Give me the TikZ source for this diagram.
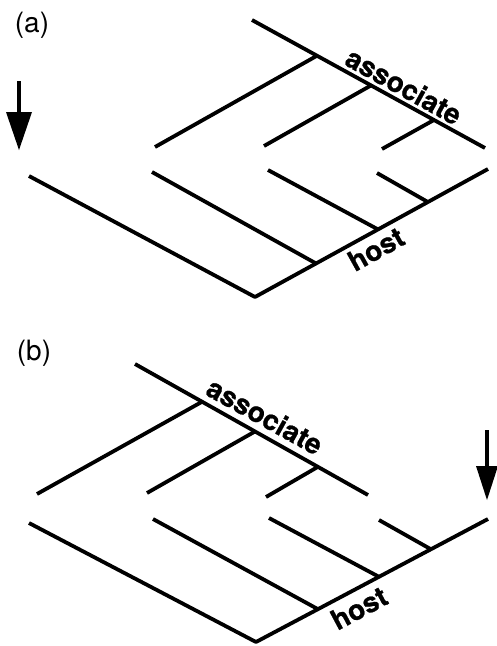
\documentclass[tikz,border=0pt]{standalone}
\usepackage{fontspec}
\setmainfont{TeX Gyre Heros}
\newfontfamily\heavyfont[BoldFeatures={FakeBold=0.8}]{TeX Gyre Heros}
\usetikzlibrary{calc}
\begin{document}
\begin{tikzpicture}[x=1pt,y=-1pt,
  edge/.style={line width=3.8pt, line join=round},
  treelabel/.style={font=\heavyfont\bfseries\fontsize{28}{28}\selectfont, inner sep=0pt},
  panellabel/.style={font=\fontsize{28}{28}\selectfont, inner sep=0pt},
  shaft/.style={line width=4pt},
  headfill/.style={fill=black},
]
\path[use as bounding box] (0,0) rectangle (497,646);

% ---------------- panel (a) ----------------
\node[panellabel] (labA) at (32,25) {(a)};

% host tree
\coordinate (hA-root) at (255,297);
\coordinate (hA-left) at (29,176);
\coordinate (hA-end)  at (488,169);
\coordinate (hA-1) at ($(hA-root)!0.262!(hA-end)$);
\coordinate (hA-2) at ($(hA-root)!0.528!(hA-end)$);
\coordinate (hA-3) at ($(hA-root)!0.742!(hA-end)$);
\coordinate (hA-1leaf) at (152,172);
\coordinate (hA-2leaf) at (268,170);
\coordinate (hA-3leaf) at (377,173);
\draw[edge] (hA-left) -- (hA-root) -- (hA-end);
\draw[edge] (hA-1leaf) -- (hA-1);
\draw[edge] (hA-2leaf) -- (hA-2);
\draw[edge] (hA-3leaf) -- (hA-3);

% associate tree
\coordinate (aA-top) at (252,20);
\coordinate (aA-end) at (485,148);
\coordinate (aA-1) at ($(aA-top)!0.279!(aA-end)$);
\coordinate (aA-2) at ($(aA-top)!0.511!(aA-end)$);
\coordinate (aA-3) at ($(aA-top)!0.781!(aA-end)$);
\coordinate (aA-1leaf) at (155,147);
\coordinate (aA-2leaf) at (264,146);
\coordinate (aA-3leaf) at (382,149);
\draw[edge] (aA-top) -- (aA-end);
\draw[edge] (aA-1leaf) -- (aA-1);
\draw[edge] (aA-2leaf) -- (aA-2);
\draw[edge] (aA-3leaf) -- (aA-3);

\node[treelabel, rotate=-29] (assocA) at (404,86) {associate};
\node[treelabel, rotate=29] (hostA) at (376,249) {host};

% arrow
\coordinate (arrA-top) at (19,81);
\coordinate (arrA-base) at (19,112);
\coordinate (arrA-tip) at (19,150);
\draw[shaft] (arrA-top) -- ($(arrA-base)+(0,2)$);
\fill[headfill] ($(arrA-base)+(-13,0)$) -- ($(arrA-base)+(13,0)$) -- (arrA-tip) -- cycle;

% ---------------- panel (b) ----------------
\node[panellabel] (labB) at (34,353) {(b)};

% host tree
\coordinate (hB-root) at (256,642);
\coordinate (hB-left) at (29,523);
\coordinate (hB-end)  at (488,519);
\coordinate (hB-1) at ($(hB-root)!0.267!(hB-end)$);
\coordinate (hB-2) at ($(hB-root)!0.530!(hB-end)$);
\coordinate (hB-3) at ($(hB-root)!0.754!(hB-end)$);
\coordinate (hB-1leaf) at (153,519);
\coordinate (hB-2leaf) at (269,518);
\coordinate (hB-3leaf) at (379,520);
\draw[edge] (hB-left) -- (hB-root) -- (hB-end);
\draw[edge] (hB-1leaf) -- (hB-1);
\draw[edge] (hB-2leaf) -- (hB-2);
\draw[edge] (hB-3leaf) -- (hB-3);

% associate tree
\coordinate (aB-top) at (135,364);
\coordinate (aB-end) at (368,495);
\coordinate (aB-1) at ($(aB-top)!0.288!(aB-end)$);
\coordinate (aB-2) at ($(aB-top)!0.515!(aB-end)$);
\coordinate (aB-3) at ($(aB-top)!0.785!(aB-end)$);
\coordinate (aB-1leaf) at (37,494);
\coordinate (aB-2leaf) at (147,493);
\coordinate (aB-3leaf) at (266,497);
\draw[edge] (aB-top) -- (aB-end);
\draw[edge] (aB-1leaf) -- (aB-1);
\draw[edge] (aB-2leaf) -- (aB-2);
\draw[edge] (aB-3leaf) -- (aB-3);

\node[treelabel, rotate=-29] (assocB) at (265,416) {associate};
\node[treelabel, rotate=28] (hostB) at (359,608) {host};

% arrow
\coordinate (arrB-top) at (487,430);
\coordinate (arrB-base) at (487,466);
\coordinate (arrB-tip) at (487,500);
\draw[shaft] (arrB-top) -- ($(arrB-base)+(0,2)$);
\fill[headfill] ($(arrB-base)+(-11,0)$) -- ($(arrB-base)+(11,0)$) -- (arrB-tip) -- cycle;
\end{tikzpicture}
\end{document}
